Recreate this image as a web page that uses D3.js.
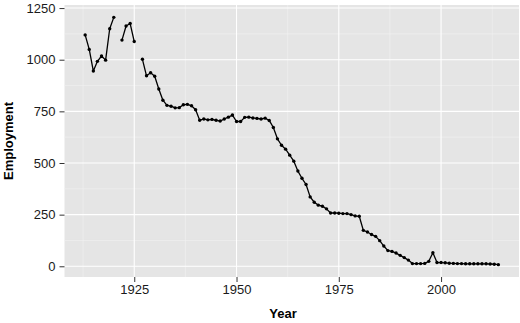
<!DOCTYPE html>
<html>
<head>
<meta charset="utf-8">
<script src="https://cdn.jsdelivr.net/npm/d3@7"></script>
<style>
  body { margin: 0; background: #fff; }
  svg { display: block; font-family: "Liberation Sans", Arial, sans-serif; }
</style>
</head>
<body>
<div id="chart"></div>
<script>
// years with missing values (null) in 1921 and 1926
const years = d3.range(1913, 2015);
const employment = [
  1120, 1050, 945, 992, 1018, 998, 1150, 1205, null, 1095,
  1163, 1175, 1088, null, 1002, 922, 937, 920, 858, 804,
  779, 775, 767, 768, 782, 784, 777, 758, 707, 713,
  709, 711, 707, 703, 713, 722, 732, 701, 701, 721,
  722, 718, 716, 713, 717, 706, 672, 617, 586, 567,
  538, 509, 461, 426, 396, 336, 310, 296, 291, 278,
  258, 258, 257, 255, 255, 250, 244, 242, 174, 166,
  154, 145, 124, 98, 76, 72, 64, 53, 42, 30,
  13, 13, 13, 14, 24, 66, 18, 18, 17, 15,
  14, 13, 13, 12, 12, 12, 12, 12, 12, 11,
  10, 8
];
const xTicks = [1925, 1950, 1975, 2000];
const xMinor = [1912.5, 1937.5, 1962.5, 1987.5, 2012.5];
const yTicks = [0, 250, 500, 750, 1000, 1250];
const yMinor = [125, 375, 625, 875, 1125];

const data = years.map((y, i) => ({ year: y, value: employment[i] }));
const valid = data.filter(d => d.value != null);

const width = 520, height = 323;
const panel = { left: 64.5, right: 519, top: 5, bottom: 277 };

// ggplot-like 5% expansion
const xExt = d3.extent(valid, d => d.year);
const yExt = d3.extent(valid, d => d.value);
const xPad = (xExt[1] - xExt[0]) * 0.05;
const yPad = (yExt[1] - yExt[0]) * 0.05;

const x = d3.scaleLinear()
  .domain([xExt[0] - xPad, xExt[1] + xPad])
  .range([panel.left, panel.right]);
const y = d3.scaleLinear()
  .domain([yExt[0] - yPad, yExt[1] + yPad])
  .range([panel.bottom, panel.top]);

const svg = d3.select("#chart").append("svg")
  .attr("width", width)
  .attr("height", height);

// panel background
svg.append("rect")
  .attr("x", panel.left).attr("y", panel.top)
  .attr("width", panel.right - panel.left)
  .attr("height", panel.bottom - panel.top)
  .attr("fill", "#E5E5E5");

// minor grid
svg.append("g").selectAll("line").data(yMinor).join("line")
  .attr("x1", panel.left).attr("x2", panel.right)
  .attr("y1", d => y(d)).attr("y2", d => y(d))
  .attr("stroke", "#F2F2F2").attr("stroke-width", 0.6);
svg.append("g").selectAll("line").data(xMinor).join("line")
  .attr("y1", panel.top).attr("y2", panel.bottom)
  .attr("x1", d => x(d)).attr("x2", d => x(d))
  .attr("stroke", "#F2F2F2").attr("stroke-width", 0.6);

// major grid
svg.append("g").selectAll("line").data(yTicks).join("line")
  .attr("x1", panel.left).attr("x2", panel.right)
  .attr("y1", d => y(d)).attr("y2", d => y(d))
  .attr("stroke", "#fff").attr("stroke-width", 1.1);
svg.append("g").selectAll("line").data(xTicks).join("line")
  .attr("y1", panel.top).attr("y2", panel.bottom)
  .attr("x1", d => x(d)).attr("x2", d => x(d))
  .attr("stroke", "#fff").attr("stroke-width", 1.1);

// axes
const xAxis = svg.append("g")
  .attr("transform", `translate(0,${panel.bottom})`)
  .call(d3.axisBottom(x).tickValues(xTicks).tickFormat(d3.format("d"))
    .tickSizeInner(5).tickSizeOuter(0).tickPadding(3));
const yAxis = svg.append("g")
  .attr("transform", `translate(${panel.left},0)`)
  .call(d3.axisLeft(y).tickValues(yTicks).tickFormat(d3.format("d"))
    .tickSizeInner(5).tickSizeOuter(0).tickPadding(4));

[xAxis, yAxis].forEach(g => {
  g.select(".domain").remove();
  g.selectAll(".tick line").attr("stroke", "#333");
  g.selectAll(".tick text")
    .attr("fill", "#1a1a1a")
    .style("font-size", "13px")
    .style("font-family", "'Liberation Sans', Arial, sans-serif");
});

// line + points
const line = d3.line()
  .defined(d => d.value != null)
  .x(d => x(d.year))
  .y(d => y(d.value));

svg.append("path")
  .datum(data)
  .attr("d", line)
  .attr("fill", "none")
  .attr("stroke", "#000")
  .attr("stroke-width", 1.3)
  .attr("stroke-linejoin", "round");

svg.append("g").selectAll("circle").data(valid).join("circle")
  .attr("cx", d => x(d.year))
  .attr("cy", d => y(d.value))
  .attr("r", 1.7)
  .attr("fill", "#000");

// axis titles
svg.append("text")
  .attr("x", 283).attr("y", 318)
  .attr("text-anchor", "middle")
  .style("font-size", "13px").style("font-weight", "bold")
  .text("Year");

svg.append("text")
  .attr("transform", `translate(13,${(panel.top + panel.bottom) / 2}) rotate(-90)`)
  .attr("text-anchor", "middle")
  .style("font-size", "13px").style("font-weight", "bold")
  .text("Employment");
</script>
</body>
</html>
